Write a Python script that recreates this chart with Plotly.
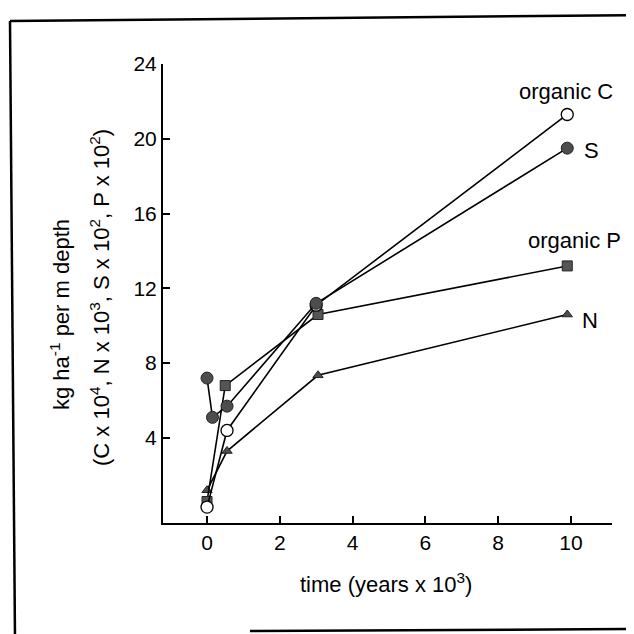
import plotly.graph_objects as go

# Data (time in years x 10^3)
time_c = [0.0, 0.55, 3.0, 9.9]
organic_c = [0.3, 4.4, 11.1, 21.3]

time_s = [0.0, 0.15, 0.55, 3.0, 9.9]
sulfur = [7.2, 5.1, 5.7, 11.2, 19.5]

time_p = [0.0, 0.5, 3.05, 9.9]
organic_p = [0.6, 6.8, 10.6, 13.2]

time_n = [0.0, 0.55, 3.05, 9.9]
nitrogen = [1.2, 3.3, 7.35, 10.6]

x_ticks = [0, 2, 4, 6, 8, 10]
y_ticks = [4, 8, 12, 16, 20, 24]

FONT = "Liberation Sans, Arial, Helvetica, sans-serif"
LINE = dict(color="black", width=1.6)

fig = go.Figure()

fig.add_trace(go.Scatter(
    x=time_n, y=nitrogen, mode="lines+markers", name="N", line=LINE,
    marker=dict(symbol="triangle-up", size=9, color="#4d4d4d",
                line=dict(color="#222222", width=1))))
fig.add_trace(go.Scatter(
    x=time_p, y=organic_p, mode="lines+markers", name="organic P", line=LINE,
    marker=dict(symbol="square", size=10, color="#555555",
                line=dict(color="#222222", width=1))))
fig.add_trace(go.Scatter(
    x=time_c, y=organic_c, mode="lines+markers", name="organic C", line=LINE,
    marker=dict(symbol="circle", size=12, color="white",
                line=dict(color="black", width=1.3))))
fig.add_trace(go.Scatter(
    x=time_s, y=sulfur, mode="lines+markers", name="S", line=LINE,
    marker=dict(symbol="circle", size=12, color="#4d4d4d",
                line=dict(color="#222222", width=1))))

LABEL_FONT = dict(family=FONT, size=22, color="black")
labels = [
    ("organic C", time_c[-1], organic_c[-1], -1, 23),
    ("S", time_s[-1], sulfur[-1], 24, -2),
    ("organic P", time_p[-1], organic_p[-1], 7, 25),
    ("N", time_n[-1], nitrogen[-1], 23, -6),
]
annotations = []
for text, x, y, dx, dy in labels:
    annotations.append(dict(x=x, y=y, xref="x", yref="y", text=text,
                            showarrow=False, xshift=dx, yshift=dy,
                            xanchor="center", yanchor="middle", font=LABEL_FONT))

# plot area in page pixels: x 163..612, y 64..523 (page has 8px body margin)
def px(x):
    return (x - 163) / 449

def py(y):
    return (523 - y) / 459

# axis titles
annotations.append(dict(x=px(386), y=py(583), xref="paper", yref="paper",
                        text="time (years x 10<sup>3</sup>)", showarrow=False,
                        xanchor="center", yanchor="middle", font=LABEL_FONT))
annotations.append(dict(x=px(60), y=py(315), xref="paper", yref="paper",
                        text="kg ha<sup>-1</sup> per m depth", showarrow=False, textangle=-90,
                        xanchor="center", yanchor="middle", font=LABEL_FONT))
annotations.append(dict(x=px(100), y=py(298), xref="paper", yref="paper",
                        text="(C x 10<sup>4</sup>, N x 10<sup>3</sup>, S x 10<sup>2</sup>, P x 10<sup>2</sup>)",
                        showarrow=False, textangle=-90,
                        xanchor="center", yanchor="middle", font=LABEL_FONT))

shapes = [
    dict(type="line", xref="paper", yref="paper", x0=px(10), y0=py(21), x1=px(640), y1=py(15),
         line=dict(color="black", width=2.5)),
    dict(type="line", xref="paper", yref="paper", x0=px(10), y0=py(21), x1=px(15), y1=py(640),
         line=dict(color="black", width=2.5)),
    dict(type="line", xref="paper", yref="paper", x0=px(250), y0=py(631), x1=px(640), y1=py(629),
         line=dict(color="black", width=2.5)),
]

fig.update_layout(
    width=626, height=626,
    margin=dict(l=155, r=22, t=56, b=111),
    paper_bgcolor="white", plot_bgcolor="white",
    showlegend=False,
    font=dict(family=FONT, size=21, color="black"),
    annotations=annotations,
    shapes=shapes,
    xaxis=dict(range=[-1.21, 11.13], tickvals=x_ticks, ticks="inside", ticklen=7,
               tickwidth=1.5, tickcolor="black", showline=True, linecolor="black",
               linewidth=2, showgrid=False, zeroline=False, mirror=False,
               tickfont=dict(family=FONT, size=21, color="black")),
    yaxis=dict(range=[-0.55, 24], tickvals=y_ticks, ticks="inside", ticklen=7,
               tickwidth=1.5, tickcolor="black", showline=True, linecolor="black",
               linewidth=2, showgrid=False, zeroline=False, mirror=False,
               tickfont=dict(family=FONT, size=21, color="black")),
)

fig.write_html("out.html")
